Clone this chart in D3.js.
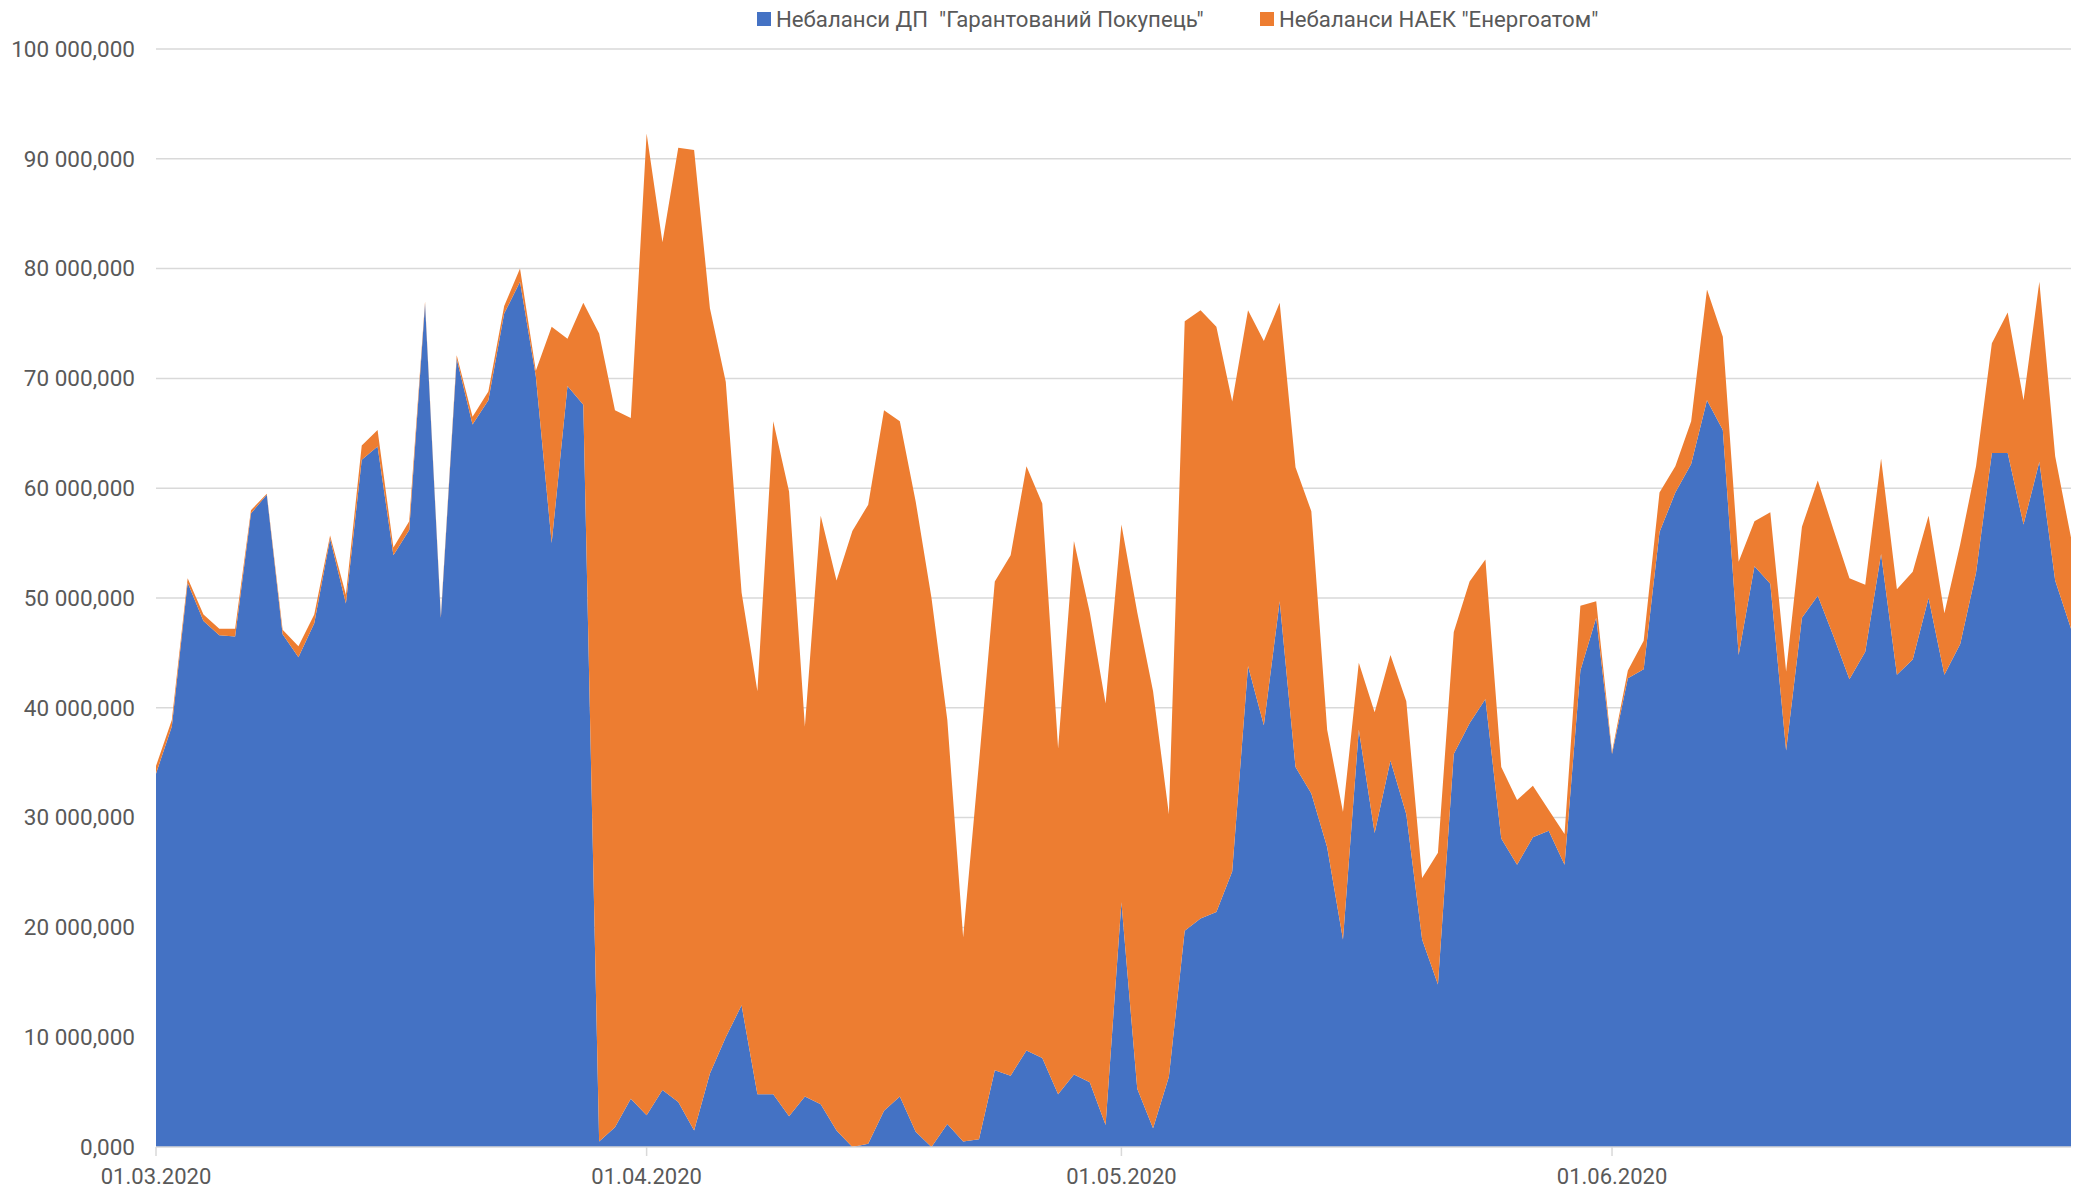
<!DOCTYPE html>
<meta charset="utf-8">
<script src="https://d3js.org/d3.v7.min.js"></script>
<head>
  <style>
    body { margin: 0; background: #fff; }
    text { font-family: Roboto, "Open Sans", sans-serif; fill: #595959; }
  </style>
</head>
<body>
<div id="chart"></div>
<script>

// series names
var seriesNames = ['Небаланси ДП  "Гарантований Покупець"', 'Небаланси НАЕК "Енергоатом"']

// first day of the series (one value per day, 01.03.2020 - 30.06.2020)
var startDate = new Date(Date.UTC(2020, 2, 1))

// Небаланси ДП "Гарантований Покупець", millions
var guaranteedBuyer = [
  34.0, 38.3, 51.4, 47.9, 46.6, 46.5, 57.7, 59.4, 46.7, 44.6,
  47.7, 55.4, 49.5, 62.6, 63.8, 53.9, 56.2, 76.8, 48.2, 71.8,
  65.8, 68.0, 75.9, 78.8, 70.2, 55.0, 69.3, 67.6, 0.5, 1.8,
  4.4, 2.9, 5.2, 4.1, 1.5, 6.7, 10.0, 12.9, 4.8, 4.8,
  2.8, 4.6, 3.9, 1.5, 0.0, 0.3, 3.3, 4.6, 1.4, 0.0,
  2.1, 0.5, 0.7, 7.0, 6.5, 8.8, 8.1, 4.8, 6.6, 5.9,
  2.0, 22.3, 5.3, 1.7, 6.4, 19.7, 20.8, 21.4, 25.1, 43.8,
  38.4, 49.7, 34.6, 32.2, 27.3, 18.9, 38.0, 28.6, 35.2, 30.3,
  18.9, 14.8, 35.8, 38.6, 40.8, 28.1, 25.7, 28.2, 28.8, 25.7,
  43.4, 48.2, 35.8, 42.7, 43.5, 56.0, 59.6, 62.2, 68.0, 65.3,
  44.8, 52.9, 51.3, 36.1, 48.2, 50.2, 46.5, 42.6, 45.1, 54.0,
  43.0, 44.4, 50.0, 43.0, 45.8, 52.3, 63.2, 63.2, 56.7, 62.4,
  51.6, 47.2
]

// Небаланси НАЕК "Енергоатом", millions
var energoatom = [
  0.7, 0.6, 0.4, 0.6, 0.6, 0.7, 0.3, 0.1, 0.4, 1.0,
  0.8, 0.3, 0.8, 1.3, 1.5, 0.7, 0.8, 0.2, 0.2, 0.3,
  0.7, 0.8, 0.7, 1.2, 0.5, 19.7, 4.3, 9.3, 73.6, 65.3,
  62.0, 89.4, 77.2, 86.9, 89.3, 69.7, 59.7, 37.6, 36.7, 61.3,
  56.9, 33.7, 53.6, 50.1, 56.1, 58.2, 63.8, 61.5, 57.4, 50.0,
  36.8, 18.6, 34.3, 44.5, 47.4, 53.2, 50.5, 31.5, 48.6, 42.8,
  38.4, 34.4, 43.4, 39.8, 23.9, 55.5, 55.4, 53.3, 42.8, 32.4,
  35.0, 27.2, 27.3, 25.7, 10.7, 11.6, 6.1, 11.0, 9.6, 10.3,
  5.6, 12.0, 11.1, 12.9, 12.7, 6.5, 5.9, 4.7, 1.9, 2.8,
  5.9, 1.5, 0.2, 0.7, 2.6, 3.6, 2.4, 3.9, 10.1, 8.5,
  8.5, 4.1, 6.5, 7.2, 8.3, 10.5, 9.7, 9.2, 6.1, 8.7,
  7.8, 8.0, 7.5, 5.6, 9.1, 9.7, 10.0, 12.8, 11.3, 16.4,
  11.3, 8.3
]

// axis labels
var yTickValues = [0, 10e6, 20e6, 30e6, 40e6, 50e6, 60e6, 70e6, 80e6, 90e6, 100e6]
var yTickLabels = ["0,000", "10 000,000", "20 000,000", "30 000,000", "40 000,000", "50 000,000",
                   "60 000,000", "70 000,000", "80 000,000", "90 000,000", "100 000,000"]
var xTickDates = [new Date(Date.UTC(2020, 2, 1)), new Date(Date.UTC(2020, 3, 1)),
                  new Date(Date.UTC(2020, 4, 1)), new Date(Date.UTC(2020, 5, 1))]
var xTickLabels = ["01.03.2020", "01.04.2020", "01.05.2020", "01.06.2020"]

var colors = ["#4472C4", "#ED7D31"]

var width = 2077, height = 1192
var plotLeft = 156, plotRight = 2071, plotTop = 49, plotBottom = 1147

// build the table for d3.stack
var table = guaranteedBuyer.map(function(v, i) {
  return { date: d3.utcDay.offset(startDate, i), a: v * 1e6, b: energoatom[i] * 1e6 }
})

var svg = d3.select("#chart").append("svg")
  .attr("width", width)
  .attr("height", height)

var x = d3.scaleUtc()
  .domain([table[0].date, table[table.length - 1].date])
  .range([plotLeft, plotRight])

var y = d3.scaleLinear()
  .domain([0, 100e6])
  .range([plotBottom, plotTop])

// gridlines
svg.append("g")
  .selectAll("line")
  .data(yTickValues.slice(1))
  .enter().append("line")
  .attr("x1", plotLeft).attr("x2", plotRight)
  .attr("y1", function(d) { return y(d) }).attr("y2", function(d) { return y(d) })
  .attr("stroke", "#d9d9d9")
  .attr("stroke-width", 1.5)

// stacked areas
var stack = d3.stack().keys(["a", "b"])
var layers = stack(table)

var area = d3.area()
  .x(function(d) { return x(d.data.date) })
  .y0(function(d) { return y(d[0]) })
  .y1(function(d) { return y(d[1]) })

svg.append("g")
  .selectAll("path")
  .data(layers)
  .enter().append("path")
  .attr("d", area)
  .attr("fill", function(d, i) { return colors[i] })

// x axis line and ticks
svg.append("line")
  .attr("x1", plotLeft).attr("x2", plotRight)
  .attr("y1", plotBottom).attr("y2", plotBottom)
  .attr("stroke", "#d9d9d9")
  .attr("stroke-width", 1.5)

svg.append("g")
  .selectAll("line")
  .data(xTickDates)
  .enter().append("line")
  .attr("x1", function(d) { return x(d) }).attr("x2", function(d) { return x(d) })
  .attr("y1", plotBottom).attr("y2", plotBottom + 9)
  .attr("stroke", "#d9d9d9")
  .attr("stroke-width", 1.5)

svg.append("g")
  .selectAll("text")
  .data(xTickDates)
  .enter().append("text")
  .attr("x", function(d) { return x(d) })
  .attr("y", plotBottom + 37)
  .attr("text-anchor", "middle")
  .style("font-size", "22px")
  .text(function(d, i) { return xTickLabels[i] })

// y labels
svg.append("g")
  .selectAll("text")
  .data(yTickValues)
  .enter().append("text")
  .attr("x", 135)
  .attr("y", function(d) { return y(d) })
  .attr("dy", "0.35em")
  .attr("text-anchor", "end")
  .style("font-size", "22.5px")
  .text(function(d, i) { return yTickLabels[i] })

// legend
var legendX = [757, 1260]
var legend = svg.append("g")
  .selectAll("g")
  .data(seriesNames)
  .enter().append("g")
  .attr("transform", function(d, i) { return "translate(" + legendX[i] + ",19)" })

legend.append("rect")
  .attr("x", 0).attr("y", -7)
  .attr("width", 14).attr("height", 14)
  .attr("fill", function(d, i) { return colors[i] })

legend.append("text")
  .attr("x", 19)
  .attr("dy", "0.35em")
  .style("font-size", "22.2px")
  .style("white-space", "pre")
  .text(function(d) { return d })

</script>
</body>
